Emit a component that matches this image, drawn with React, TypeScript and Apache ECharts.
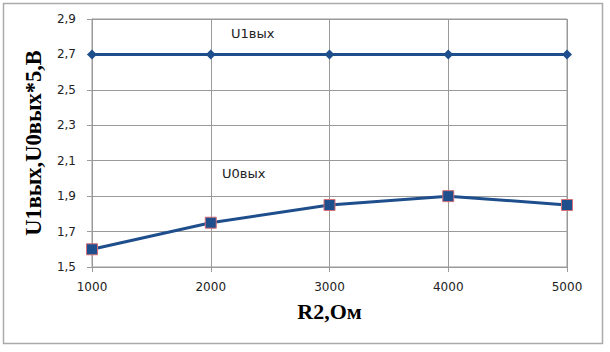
import React, { useEffect, useRef } from "react";
import * as echarts from "echarts";

const categories = [1000, 2000, 3000, 4000, 5000];
const u1Values = [2.7, 2.7, 2.7, 2.7, 2.7];
const u0Values = [1.6, 1.75, 1.85, 1.9, 1.85];
const yTitle = "U1вых,U0вых*5,В";
const xTitle = "R2,Ом";
const u1Label = "U1вых";
const u0Label = "U0вых";

export default function App() {
  const ref = useRef<HTMLDivElement>(null);
  useEffect(() => {
    const chart = echarts.init(ref.current!, null, { renderer: "svg" });
    const lineColor = "#1F4E8C";
    chart.setOption({
      animation: false,
      backgroundColor: "#ffffff",
      grid: { left: 92, right: 43, top: 19, bottom: 85, show: true, borderColor: "#9a9a9a", borderWidth: 1 },
      xAxis: {
        type: "value",
        min: 1000,
        max: 5000,
        interval: 1000,
        name: xTitle,
        nameLocation: "middle",
        nameGap: 33,
        nameTextStyle: { fontFamily: "Liberation Serif", fontWeight: "bold", fontSize: 22, color: "#000" },
        axisLine: { show: true, lineStyle: { color: "#9a9a9a" } },
        axisTick: { show: true, length: 5, lineStyle: { color: "#9a9a9a" } },
        axisLabel: { fontFamily: "DejaVu Sans", fontSize: 12, color: "#222", margin: 14, formatter: (v: number) => String(v) },
        splitLine: { show: true, lineStyle: { color: "#9a9a9a", width: 1 } },
      },
      yAxis: {
        type: "value",
        min: 1.5,
        max: 2.9,
        interval: 0.2,
        name: yTitle,
        nameLocation: "middle",
        nameGap: 47,
        nameRotate: 90,
        nameTextStyle: { fontFamily: "Liberation Serif", fontWeight: "bold", fontSize: 22.5, color: "#000" },
        axisLine: { show: true, lineStyle: { color: "#9a9a9a" } },
        axisTick: { show: true, length: 5, lineStyle: { color: "#9a9a9a" } },
        axisLabel: {
          fontFamily: "DejaVu Sans",
          fontSize: 12,
          color: "#222",
          margin: 16,
          formatter: (v: number) => v.toFixed(1).replace(".", ","),
        },
        splitLine: { show: true, lineStyle: { color: "#9a9a9a", width: 1 } },
      },
      series: [
        {
          type: "line",
          name: u1Label,
          data: categories.map((c, i) => [c, u1Values[i]]),
          symbol: "diamond",
          symbolSize: 10,
          lineStyle: { color: lineColor, width: 3 },
          itemStyle: { color: lineColor },
        },
        {
          type: "line",
          name: u0Label,
          data: categories.map((c, i) => [c, u0Values[i]]),
          symbol: "rect",
          symbolSize: 11,
          lineStyle: { color: lineColor, width: 3 },
          itemStyle: { color: lineColor, borderColor: "#D66F78", borderWidth: 1 },
        },
      ],
      graphic: [
        {
          type: "rect",
          shape: { x: 3.5, y: 3.5, width: 599, height: 340 },
          style: { fill: "none", stroke: "#aaaaaa", lineWidth: 1.5 },
          silent: true,
        },
        {
          type: "text",
          left: 231,
          top: 27,
          style: { text: u1Label, font: "13px 'DejaVu Sans'", fill: "#222" },
        },
        {
          type: "text",
          left: 222,
          top: 167,
          style: { text: u0Label, font: "13px 'DejaVu Sans'", fill: "#222" },
        },
      ],
    });
    return () => chart.dispose();
  }, []);
  return <div ref={ref} style={{ position: "fixed", left: 0, top: 0, width: 610, height: 352 }} />;
}
